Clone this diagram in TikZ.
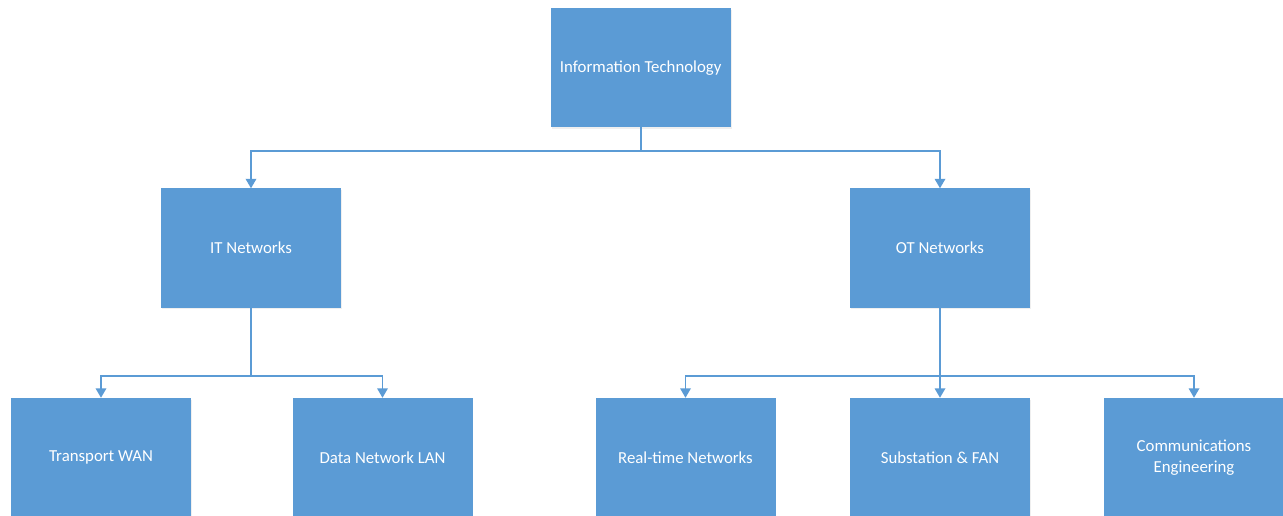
\documentclass[tikz,border=0pt]{standalone}
\usepackage{fontspec}
\setmainfont{Carlito}
\usetikzlibrary{arrows.meta,shadows}
\definecolor{boxblue}{HTML}{5B9BD5}
\begin{document}
\begin{tikzpicture}[x=1pt,y=-1pt,
  orgbox/.style={rectangle, fill=boxblue, draw=none, text=white,
    minimum width=180pt, minimum height=119pt, inner sep=0pt,
    align=center, font=\fontsize{16.8}{20.5}\selectfont,
    drop shadow={opacity=0.12, shadow xshift=0.8pt, shadow yshift=-1.5pt}},
  link/.style={draw=boxblue, line width=1.8pt},
  arrowlink/.style={link, -{Triangle[length=9.5pt,width=10.5pt]}}]
\useasboundingbox[fill=white] (0,0) rectangle (1283,516);

% top level
\node[orgbox] (it) at (640.7,67.7) {Information Technology};
% second level
\node[orgbox] (itn) at (251,248) {IT Networks};
\node[orgbox] (otn) at (940,248) {OT Networks};
% third level
\node[orgbox] (wan) at (101,457.5) {Transport WAN};
\node[orgbox] (lan) at (382.5,457.5) {Data Network LAN};
\node[orgbox] (rt)  at (685.5,457.5) {Real-time Networks};
\node[orgbox] (fan) at (940,457.5) {Substation \& FAN};
\node[orgbox] (ce)  at (1194,457.5) {Communications\\Engineering};

% bus points
\coordinate (b1) at (640.7,151);
\coordinate (b2) at (251,376);
\coordinate (b3) at (940,376);

% connectors
\draw[link] (it.south) -- (b1);
\draw[arrowlink] (b1) -| (itn.north);
\draw[arrowlink] (b1) -| (otn.north);

\draw[link] (itn.south) -- (b2);
\draw[arrowlink] (b2) -| (wan.north);
\draw[arrowlink] (b2) -| (lan.north);

\draw[arrowlink] (otn.south) -- (fan.north);
\draw[arrowlink] (b3) -| (rt.north);
\draw[arrowlink] (b3) -| (ce.north);
\end{tikzpicture}
\end{document}
